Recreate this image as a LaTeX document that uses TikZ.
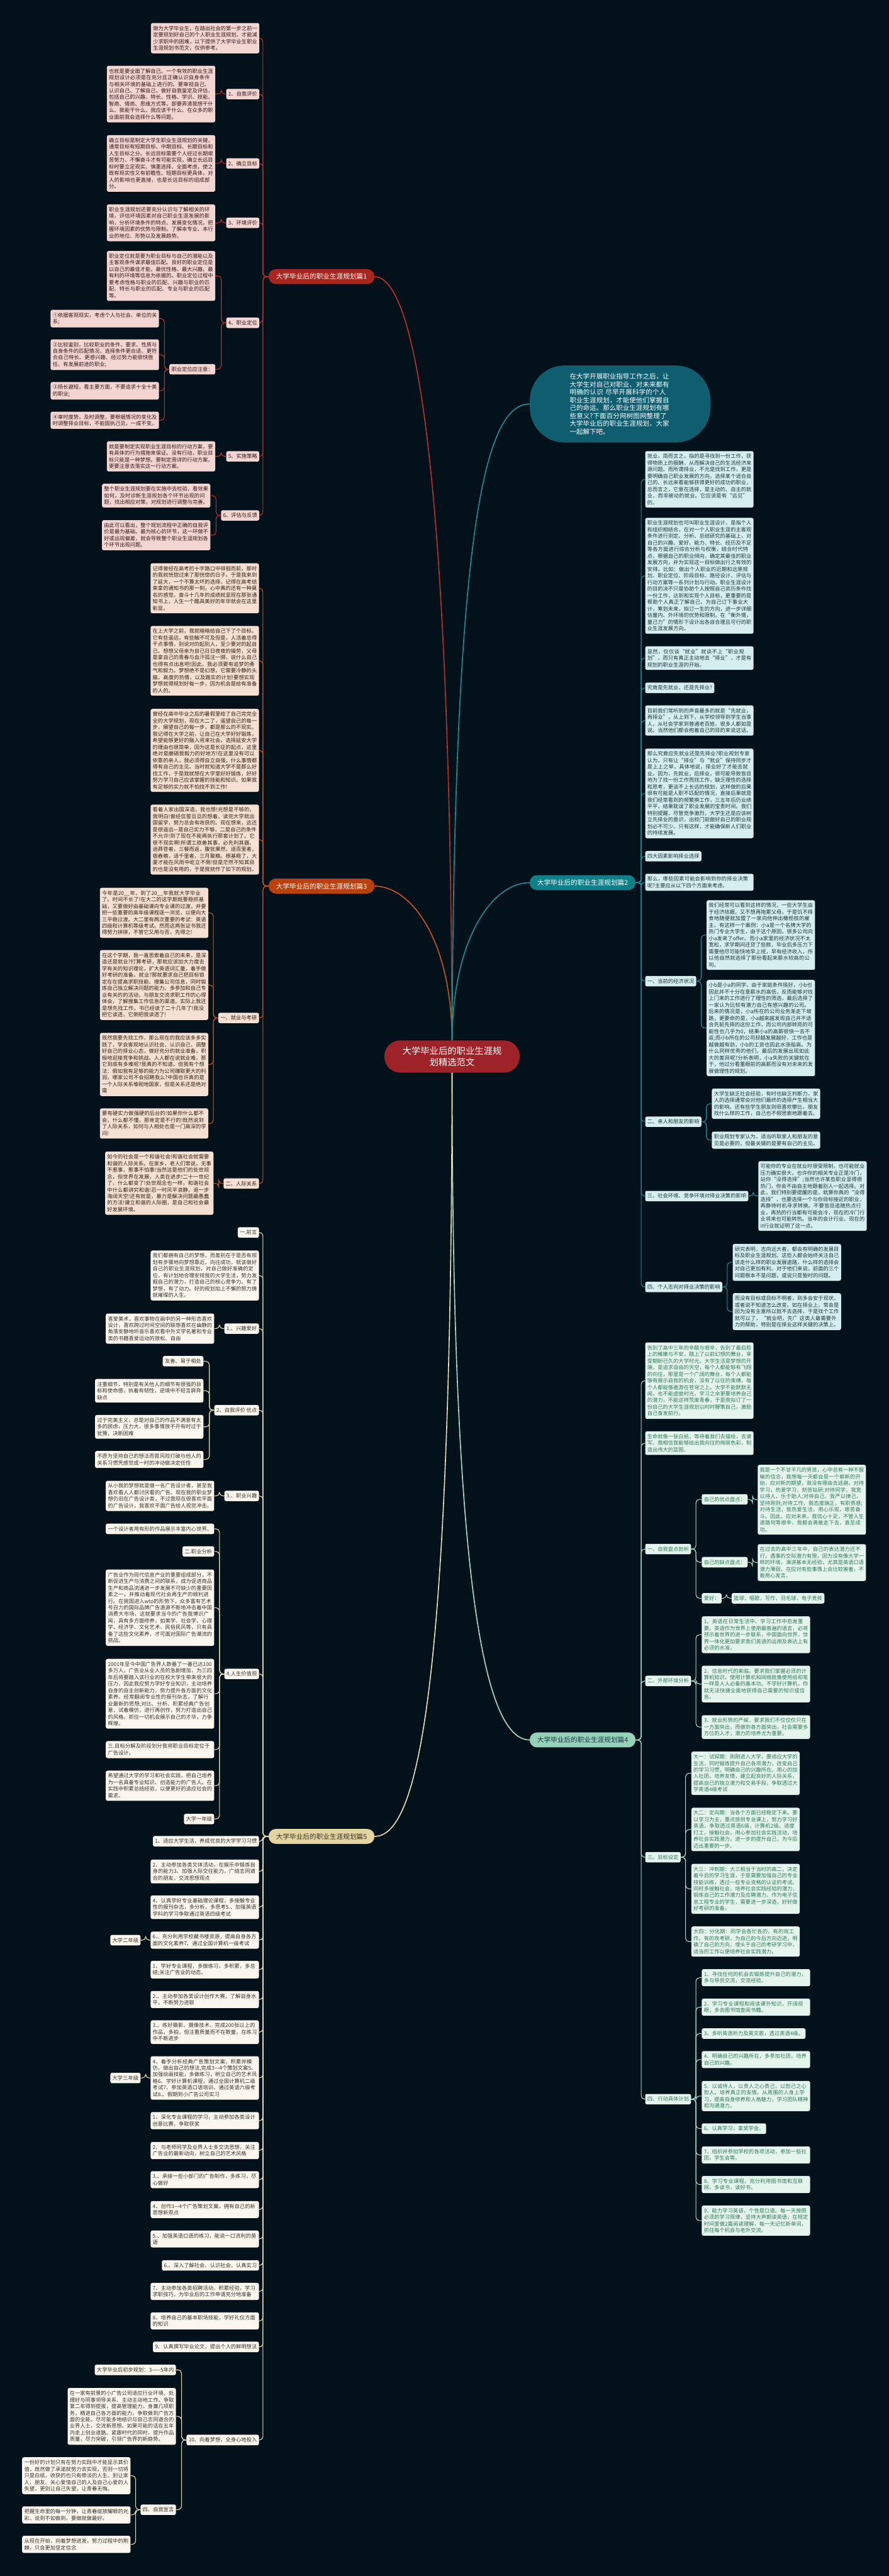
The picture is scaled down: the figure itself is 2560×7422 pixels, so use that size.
\documentclass[tikz,border=0pt]{standalone}
\usepackage{fontspec}
\setmainfont{Noto Sans CJK SC}
\XeTeXlinebreaklocale "zh"
\XeTeXlinebreakskip=0pt plus 1pt

\definecolor{bgcol}{RGB}{3,17,26}
\definecolor{ctrfill}{RGB}{158,35,40}
\definecolor{introfill}{RGB}{14,94,112}
% branch colours
\definecolor{redlab}{RGB}{168,38,30}
\definecolor{redline}{RGB}{184,50,40}
\definecolor{redbox}{RGB}{243,213,210}
\definecolor{redtext}{RGB}{50,25,25}
\definecolor{orglab}{RGB}{184,65,14}
\definecolor{orgline}{RGB}{200,84,30}
\definecolor{orgbox}{RGB}{246,224,211}
\definecolor{orgtext}{RGB}{50,30,20}
\definecolor{beilab}{RGB}{228,212,160}
\definecolor{beiline}{RGB}{231,221,179}
\definecolor{beibox}{RGB}{251,247,238}
\definecolor{beitext}{RGB}{55,50,40}
\definecolor{tealab}{RGB}{15,127,136}
\definecolor{tealine}{RGB}{26,142,151}
\definecolor{teabox}{RGB}{215,238,240}
\definecolor{teatext}{RGB}{25,55,62}
\definecolor{mntlab}{RGB}{150,210,185}
\definecolor{mntline}{RGB}{164,220,196}
\definecolor{mntbox}{RGB}{230,244,238}
\definecolor{mnttext}{RGB}{44,122,90}

\begin{document}
\begin{tikzpicture}[x=1pt, y=-1pt,
  textbox/.style={rounded corners=5pt, inner xsep=6pt, inner ysep=8pt, text width=300pt, align=left, font=\fontsize{15}{19}\selectfont},
  tagbox/.style={rounded corners=5pt, inner xsep=6pt, inner ysep=8pt, font=\fontsize{15}{19}\selectfont},
  pill/.style={rounded corners=21pt, minimum width=305pt, minimum height=43pt, font=\fontsize{19.3}{23}\selectfont},
  c1/.style={fill=redbox, text=redtext}, c3/.style={fill=orgbox, text=orgtext},
  c5/.style={fill=beibox, text=beitext}, c2/.style={fill=teabox, text=teatext},
  c4/.style={fill=mntbox, text=mnttext},
  l1/.style={draw=redline, line width=2pt, rounded corners=10pt},
  l3/.style={draw=orgline, line width=2pt, rounded corners=10pt},
  l5/.style={draw=beiline, line width=2pt, rounded corners=10pt},
  l2/.style={draw=tealine, line width=2pt, rounded corners=10pt},
  l4/.style={draw=mntline, line width=2pt, rounded corners=10pt}]

\fill[bgcol] (0,0) rectangle (2560,7422);
\useasboundingbox (0,0) rectangle (2560,7422);

% Centre and intro
\node[fill=ctrfill, text=white, rounded corners=46pt, minimum width=390pt, minimum height=93pt, align=center, font=\fontsize{26}{33}\selectfont] (ctr) at (1302,3044) {大学毕业后的职业生涯规\\划精选范文};
\node[fill=introfill, text=white, rounded corners=100pt, minimum width=520pt, minimum height=222pt, text width=290pt, align=left, font=\fontsize{19}{22.7}\selectfont] (intro) at (1786,1164) {在大学开展职业指导工作之后，让大学生对自己对职业、对未来都有明确的认识 尽早开展科学的个人职业生涯规划，才能使他们掌握自己的命运。那么职业生涯规划有哪些意义?下面百分网树图网整理了大学毕业后的职业生涯规划，大家一起解下吧。};

% Branch labels
\node[pill, fill=redlab, text=white] (b1) at (926,797) {大学毕业后的职业生涯规划篇1};
\node[pill, fill=orglab, text=white] (b3) at (926,2553) {大学毕业后的职业生涯规划篇3};
\node[pill, fill=beilab, text=beitext] (b5) at (926,5291) {大学毕业后的职业生涯规划篇5};
\node[pill, fill=tealab, text=white] (b2) at (1678,2543) {大学毕业后的职业生涯规划篇2};
\node[pill, fill=mntlab, text=teatext] (b4) at (1678,5013) {大学毕业后的职业生涯规划篇4};

% Branch 1
\node[textbox, c1, anchor=east] (b1intro) at (747,110) {做为大学毕业生，在踏出社会的第一步之前一定要规划好自己的个人职业生涯规划，才能减少求职中的困难，以下提供了大学毕业生职业生涯规划书范文，仅供参考。};
\node[tagbox, c1, anchor=east] (b1s1) at (747,271) {1、自我评价};
\node[textbox, c1, anchor=east] (b1t1) at (620,271) {也就是要全面了解自己。一个有效的职业生涯规划设计必须是在充分且正确认识自身条件与相关环境的基础上进行的。要审视自己、认识自己、了解自己，做好自我鉴定及评估，包括自己的兴趣、特长、性格、学识、技能、智商、情商、思维方式等。即要弄清我想干什么、我能干什么、我应该干什么、在众多的职业面前我会选择什么等问题。};
\node[tagbox, c1, anchor=east] (b1s2) at (747,471) {2、确立目标};
\node[textbox, c1, anchor=east] (b1t2) at (620,471) {确立目标是制定大学生职业生涯规划的关键，通常目标有短期目标、中期目标、长期目标和人生目标之分。长远目标需要个人经过长期艰苦努力、不懈奋斗才有可能实现，确立长远目标时要立足现实、慎重选择、全面考虑，使之既有现实性又有前瞻性。短期目标更具体，对人的影响也更直接，也是长远目标的组成部分。};
\node[tagbox, c1, anchor=east] (b1s3) at (747,642) {3、环境评价};
\node[textbox, c1, anchor=east] (b1t3) at (620,642) {职业生涯规划还要充分认识与了解相关的环境，评估环境因素对自己职业生涯发展的影响，分析环境条件的特点、发展变化情况，把握环境因素的优势与限制。了解本专业、本行业的地位、形势以及发展趋势。};
\node[tagbox, c1, anchor=east] (b1s4) at (747,930) {4、职业定位};
\node[textbox, c1, anchor=east] (b1t4) at (620,795) {职业定位就是要为职业目标与自己的潜能以及主客观条件谋求最佳匹配。良好的职业定位是以自己的最佳才能、最优性格、最大兴趣、最有利的环境等信息为依据的。职业定位过程中要考虑性格与职业的匹配、兴趣与职业的匹配、特长与职业的匹配、专业与职业的匹配等。};
\node[tagbox, c1, anchor=east] (b1n) at (620,1064) {职业定位应注意：};
\node[textbox, c1, anchor=east] (b1n1) at (458,918) {①依据客观现实，考虑个人与社会、单位的关系;};
\node[textbox, c1, anchor=east] (b1n2) at (458,1022) {②比较鉴别，比较职业的条件、要求、性质与自身条件的匹配情况，选择条件更合适、更符合自己特长、更感兴趣、经过努力能很快胜任、有发展前途的职业;};
\node[textbox, c1, anchor=east] (b1n3) at (458,1126) {③扬长避短，看主要方面，不要追求十全十美的职业;};
\node[textbox, c1, anchor=east] (b1n4) at (458,1211) {④审时度势，及时调整，要根据情况的变化及时调整择业目标，不能固执己见，一成不变。};
\node[tagbox, c1, anchor=east] (b1s5) at (747,1315) {5、实施策略};
\node[textbox, c1, anchor=east] (b1t5) at (620,1315) {就是要制定实现职业生涯目标的行动方案，要有具体的行为措施来保证。没有行动，职业目标只能是一种梦想。要制定周详的行动方案，更要注意去落实这一行动方案。};
\node[tagbox, c1, anchor=east] (b1s6) at (747,1485) {6、评估与反馈};
\node[textbox, c1, anchor=east] (b1t6a) at (606,1428) {整个职业生涯规划要在实施中去检验，看效果如何，及时诊断生涯规划各个环节出现的问题，找出相应对策，对规划进行调整与完善。};
\node[textbox, c1, anchor=east] (b1t6b) at (606,1542) {由此可以看出，整个规划流程中正确的自我评价是最为基础、最为核心的环节，这一环做不好或出现偏差，就会导致整个职业生涯规划各个环节出现问题。};

% Branch 3
\node[textbox, c3, anchor=east] (b3t1) at (746,1695) {记得曾经在高考的十字路口中徘徊而前，那时的我就恍惚过来了那恍惚的日子。于是我来到了延大，一个不算太坏的选择，记得在高考结束拿的通知书的那一刻，心中真的还有一种莫名的感觉。奋斗十几年的成绩就显现在那张通知书上，人生一个酷具美好的年华就会在这里彰显。};
\node[textbox, c3, anchor=east] (b3t2) at (746,1904) {在上大学之前，我就暗暗给自己下了个目标。它有些遥远，有些触不可及但是，人活着总得干点事情，别说对的起别人，至少要对的起自己。想想父母亲为自己日日夜夜的操劳，父母是拿自己的青春与血汗孤注一掷，说什么自己也得有点出息吧!因此，我必须要有追梦的勇气和毅力。梦想绝不是幻想，它需要冷静的头脑，高度的热情，以及踏实的计划!要想实现梦想就得规划好每一步，因为机会是给有准备的人的。};
\node[textbox, c3, anchor=east] (b3t3) at (746,2162) {曾经在高中毕业之后的暑假里给了自己完完全全的大学规划，现在大二了，遥望自己的每一步，展望自己的每一步，都是那么的不现实。我记得在大学之前，让自己在大学好好锻炼，希望能够更好的融入将来社会。选择延安大学的理由也很简单，因为这是长征的起点，这里绝对是磨砺我毅力的好地方!在这里没有可以依靠的亲人，我必须得自立自强，什么事情都得有自己的主见。当时就知道大学不是那么好找工作，于是我就想在大学里好好锻炼，好好努力学习自己应该掌握的技能和知识。如果我有足够的实力就不怕找不到工作!};
\node[textbox, c3, anchor=east] (b3t4) at (746,2419) {看着人家出国深造，我也想!光想是不够的，我明白!曾经信誓旦旦的想着，读完大学就出国留学，努力总会有收获的。现在想来，这还是很遥远—是自己实力不够，二是自己的条件不允许!到了现在不能再执行那套计划了。它很不现实啊!所谓工欲善其事，必先利其器、适莽苍者，三餐而返，腹犹果然，适百里者，宿舂粮，适千里者，三月聚粮。根基稳了，大厦才能在风雨中屹立不倒!但是茫然不知其目的也是没有用的，于是我就作了如下的规划。};
\node[tagbox, c3, anchor=east] (b3s1) at (746,2933) {一、就业与考研};
\node[textbox, c3, anchor=east] (b3s1a) at (600,2630) {今年是20\_\_年，到了20\_\_年我就大学毕业了。时间不长了!在大二的这学期既要稳抓基础，又要做好由基础课向专业课的过渡，并要把一些重要的高年级课程逐一浏览，以便向大三平稳过渡。大二里有两次重要的考试：英语四级和计算机等级考试。然而这两张证书我还得努力拼拼，不管它又用与否，先得之!};
\node[textbox, c3, anchor=east] (b3s1b) at (600,2838) {在这个学期，我一直思索着自己的未来，是深造还是就业?打算考研，那就应该加大力度去学有关的知识理论，扩大英语词汇量，着手做好考研的准备。就业?那就要求自己把目标锁定在在提高求职技能、搜集公司信息，同时锻炼自己独立解决问题的能力。多参加和自己专业有关的的活动，与朋友交流求职工作的心得体会，了解搜集工作信息的渠道。实际上我还是想先找工作，书已经读了二十几年了!我没把它读透，它倒把我读透了!};
\node[textbox, c3, anchor=east] (b3s1c) at (600,3067) {既然我要先找工作，那么现在的我应该多多实践了，学会客观地认识社会、认识自己，调整好自己的择业心态，做好充分的就业准备，积极地迎接竞争和挑战。人人都在说就业难，那它到底有多难呢?我真的不知道，但我有个想法：假如我有足够的能力为公司赚取更大的利润，哪家公司不会招聘我么?中国也许真的是一个人际关系堆砌地国家，但是关系还是绝对需};
\node[textbox, c3, anchor=east] (b3s1d) at (600,3237) {要有硬实力做强硬的后台的!如果你什么都不会，什么都不懂，那肯定是不行的!既然说到了人际关系，如何与人相处也是一门高深的学问!};
\node[tagbox, c3, anchor=east] (b3s2) at (746,3410) {二、人际关系};
\node[textbox, c3, anchor=east] (b3s2a) at (615,3409) {如今的社会是一个和谐社会!和谐社会就需要和谐的人际关系。在家乡，老人们常说，无事不惹事，惹事不怕事!当然这是他们的处世观念，但世界在发展，人类在进步!二十一世纪了，什么都变了!处世观念也一样，和谐社会中什么都讲究和谐!忍一时风平浪静，退一步海阔天空!还有就是，暴力是解决问题最愚蠢的方法!建立和谐的人际圈，是自己和社会最好发展环境。};

% Branch 5
\node[tagbox, c5, anchor=east] (b5a) at (746,3551) {一.前言};
\node[textbox, c5, anchor=east] (b5b) at (746,3675) {我们都拥有自己的梦想，而差别在于是否有规划有步骤地向梦想靠近。向往成功，就该做好自己的职业生涯规划，对自己做好准确的定位，有计划地合理安排我的大学生活，努力发掘自己的潜力，打造自己的核心竞争力。有了梦想，有了动力。好的规划加上不懈的努力铸就璀璨的人生。};
\node[tagbox, c5, anchor=east] (b5s1) at (746,3828) {1.、兴趣爱好};
\node[textbox, c5, anchor=east] (b5s1a) at (617,3828) {喜爱美术，喜欢事物在画中的另一种形态喜欢设计，喜欢跨过时间空间的联想喜欢在幽静的角落安静地听音乐喜欢看中外文学名著和专业类的书籍喜爱运动的放松、自由};
\node[tagbox, c5, anchor=east] (b5s2) at (746,4063) {2、自我评价 优点};
\node[tagbox, c5, anchor=east] (b5s2a) at (586,3922) {友善、易于相处};
\node[textbox, c5, anchor=east] (b5s2b) at (586,4007) {注重细节，特别是有关他人的细节有很强的目标和使命感，执着有韧性，逆境中不轻言屏弃缺点};
\node[textbox, c5, anchor=east] (b5s2c) at (586,4111) {过于完美主义，总是对自己的作品不满意有太多的顾虑，压力大，很多事情放不开有时过于犹豫，决断困难};
\node[textbox, c5, anchor=east] (b5s2d) at (586,4205) {不愿为坚持自己的想法而冒风险打破与他人的关系习惯凭感觉或一时的冲动做决定任性};
\node[tagbox, c5, anchor=east] (b5s3) at (746,4310) {3.、职业兴趣};
\node[textbox, c5, anchor=east] (b5s3a) at (617,4310) {从小我的梦想就是做一名广告设计者，甚至我喜欢看人人都讨厌看的广告。现在我的职业梦想仍旧在广告设计类，不过我现在很喜欢平面的广告设计，我喜欢平面广告给人视觉冲击。};
\node[tagbox, c5, anchor=east] (b5s4) at (746,4823) {4.人生价值观};
\node[tagbox, c5, anchor=east] (b5s4a) at (617,4405) {一个设计者用有形的作品展示丰富内心世界。};
\node[tagbox, c5, anchor=east] (b5s4b) at (617,4470) {二.职业分析};
\node[textbox, c5, anchor=east] (b5s4c) at (617,4632) {广告业作为现代信息产业的重要组成部分，不断促进生产与消费之间的联系，成为促进商品生产和商品流通进一步发展不可缺少的重要因素之一，并推动着现代社会再生产的顺利进行。在我国进入wto的形势下，众多富有艺术号召力的国际品牌广告源源不断地冲击着中国消费大市场，这就要求当今的广告我博识广闻，具有多方面修养，如美学、社会学、心理学、经济学、文化艺术、民俗民风等，只有具备了这些文化素养，才可面对国际广告潮流的挑战。};
\node[textbox, c5, anchor=east] (b5s4d) at (617,4880) {2001年至今中国广告界人数番了一番已达100多万人，广告业从业人员的急剧增加，为三四年后将要踏入该行业的在校大学生带来很大的压力，因此我应努力学好专业知识，主动培养自身的自主创新能力，努力提升各方面的文化素养。经常翻阅专业性的报刊杂志，了解行业最新的思想;对比、分析、积累经典广告创意，试着模仿，进行再创作，努力打造出自己的风格。抓住一切机会展示自己的才华，力争辉煌。};
\node[textbox, c5, anchor=east] (b5s4e) at (617,5041) {三.目标分解及阶段划分我将职业目标定位于广告设计。};
\node[textbox, c5, anchor=east] (b5s4f) at (617,5145) {希望通过大学的学习和社会实践，把自己培养为一名具备专业知识、创造能力的广告人。在实践中积累总结经验，以便更好的适应社会的需求。};
\node[tagbox, c5, anchor=east] (b5s4g) at (617,5241) {大学一年级};
\node[tagbox, c5, anchor=east] (b5c) at (746,5305) {1、适应大学生活，养成优良的大学学习习惯};
\node[textbox, c5, anchor=east] (b5d) at (746,5392) {2、主动参加各类文体活动，在娱乐中锻炼自身的能力3、加强人际交往能力，广结志同道合的朋友，交流思想观点};
\node[textbox, c5, anchor=east] (b5e) at (746,5495) {4、认真学好专业基础理论课程，多接触专业性的报刊杂志，多分析，多思考5.、加强英语学科的学习争取通过英语四级考试};
\node[textbox, c5, anchor=east] (b5f) at (746,5590) {6.、充分利用学校藏书楼资源，提高自身各方面的文化素养7、通过全国计算机一级考试};
\node[tagbox, c5, anchor=east] (b5f1) at (405,5590) {大学二年级};
\node[textbox, c5, anchor=east] (b5g) at (746,5675) {1、学好专业课程，多做练习，多积累，多总结;关注广告业的动态。};
\node[textbox, c5, anchor=east] (b5h) at (746,5761) {2.、主动参加各类设计创作大赛，了解自身水平，不断努力进取};
\node[textbox, c5, anchor=east] (b5i) at (746,5855) {3.、练好摄影、摄像技术，完成200张以上的作品，多拍，但注重质量而不在数量，在练习中不断进步};
\node[textbox, c5, anchor=east] (b5j) at (746,5987) {4、着手分析经典广告策划文案，积累并模仿，做出自己的想法,完成3—4个策划文案5、加强绘画技能，多做练习，树立自己的艺术风格6、学好计算机课程，通过全国计算机二级考试7、参加英语口语培训，通过英语六级考试8.、假期到小广告公司实习};
\node[tagbox, c5, anchor=east] (b5j1) at (405,5987) {大学三年级};
\node[textbox, c5, anchor=east] (b5k) at (746,6110) {1、深化专业课程的学习，主动参加各类设计创意比赛，争取获奖};
\node[textbox, c5, anchor=east] (b5l) at (746,6196) {2、与老师同学及业界人士多交流思想，关注广告业的最新动向，树立自己的艺术风格};
\node[textbox, c5, anchor=east] (b5m) at (746,6280) {3.、承接一些小部门的广告制作，多练习，尽心做好};
\node[textbox, c5, anchor=east] (b5n) at (746,6366) {4、创作3—4个广告策划文案，拥有自己的新思想新观点};
\node[textbox, c5, anchor=east] (b5o) at (746,6451) {5.、加强英语口语的练习，能说一口流利的英语};
\node[tagbox, c5, anchor=east] (b5p) at (746,6527) {6.、深入了解社会、认识社会，认真实习};
\node[textbox, c5, anchor=east] (b5q) at (746,6602) {7、主动参加各类招聘活动，积累经验，学习求职技巧，为毕业后的工作申请充分地准备};
\node[textbox, c5, anchor=east] (b5r) at (746,6687) {8、培养自己的基本职场技能，学好礼仪方面的知识};
\node[tagbox, c5, anchor=east] (b5s) at (746,6762) {9、认真撰写毕业论文，提出个人的鲜明想法};
\node[tagbox, c5, anchor=east] (b5t) at (746,7030) {10、向着梦想，全身心地投入};
\node[tagbox, c5, anchor=east] (b5t1) at (507,6828) {大学毕业后初步规划：3——5年内};
\node[textbox, c5, anchor=east] (b5t2) at (507,6962) {在一家有前景的小广告公司适应行业环境、处理好与同事领导关系、主动主动地工作。争取第二年得到提拔，提高管理能力，身兼几项职务，精进自己各方面的能力，争取做到广告方面的全能。尽可能多地结识与自己志同道合的业界人士，交流新思想。如果可能的话在五年内走上创业道路。紧跟时代的同时，提升作品质量，尽力突破，引领广告界的新趋势。};
\node[tagbox, c5, anchor=east] (b5t3) at (507,7231) {四、自我宣言};
\node[textbox, c5, anchor=east] (b5t3a) at (376,7133) {一份好的计划只有在努力实践中才能显示其价值，既然做了承诺就努力去实现，否则一切将只是白纸，收获的也只有惨淡的人生。别让家人、朋友、关心爱惜自己的人及自己心爱的人失望，更别让自己失望，让青春无悔。};
\node[textbox, c5, anchor=east] (b5t3b) at (376,7246) {把握生命里的每一分钟，让青春绽放耀眼的光彩。说到不如做到，要做就做最好。};
\node[textbox, c5, anchor=east] (b5t3c) at (376,7331) {从现在开始，向着梦想进发，努力过程中的荆棘，只会更加坚定信念};

% Branch 2
\node[textbox, c2, anchor=west] (b2a) at (1858,1381) {就业，简而言之，指的是寻找到一份工作，获得物质上的报酬，从而解决自己的生活经济来源问题。而所谓择业，不光是找到工作，更是要明确自己职业发展的方向，选择某个适合自己的、长远来看能够获得更好的成功的职业，总而言之，它意在选择，是主动的、自主的就业，而非被动的就业。它应该是有“远见”的。};
\node[textbox, c2, anchor=west] (b2b) at (1858,1659) {职业生涯规划也可叫职业生涯设计，是指个人和组织相结合，在对一个人职业生涯的主客观条件进行测定、分析、总结研究的基础上，对自己的兴趣、爱好、能力、特长、经历及不足等各方面进行综合分析与权衡，结合时代特点，根据自己的职业倾向，确定其最佳的职业发展方向，并为实现这一目标做出行之有效的安排。比如：做出个人职业的近期和远景规划、职业定位、阶段目标、路径设计、评估与行动方案等一系列计划与行动。职业生涯设计的目的决不只是协助个人按照自己资历条件找一份工作，达到和实现个人目标，更重要的是帮助个人真正了解自己，为自己订下事业大计，筹划未来，拟订一生的方向，进一步详细估量内、外环境的优势和限制，在“衡外情，量己力”的情形下设计出各自合理且可行的职业生涯发展方向。};
\node[textbox, c2, anchor=west] (b2c) at (1858,1896) {显然，仅仅谈“就业”就谈不上“职业规划”，而只有真正主动地去“择业”，才是有规划的职业生涯的开始。};
\node[tagbox, c2, anchor=west] (b2d) at (1858,1982) {究竟是先就业，还是先择业?};
\node[textbox, c2, anchor=west] (b2e) at (1858,2076) {目前我们常听到的声音最多的就是“先就业，再择业”，从上到下，从学校领导到学生当事人，从社会学家到普通老百姓，很多人都如是说。当然他们都会抱着自己的目的来说这话。};
\node[textbox, c2, anchor=west] (b2f) at (1858,2286) {那么究竟应先就业还是先择业?职业规划专家认为，只有让“择业”与“就业”保持同步才是上上之举，具体地说，择业好了才能去就业。因为，先就业，后择业，很可能导致盲目地为了找一份工作而找工作，缺乏理性的选择和思考，更谈不上长远的规划，这样做的后果很有可能是人职不匹配的情况，直接后果就是我们经常看到的频繁换工作，三五年后仍业绩平平，结果耽误了职业发展的宝贵时间。我们特别提醒，尽管竞争激烈，大学生还是应该树立先择业的意识，出校门前做好自己的职业规划必不可少。只有这样，才能确保新人们职业的持续发展。};
\node[tagbox, c2, anchor=west] (b2g) at (1858,2467) {四大因素影响择业选择};
\node[textbox, c2, anchor=west] (b2h) at (1858,2542) {那么，哪些因素可能会影响到你的择业决策呢?主要应从以下四个方面来考虑。};
\node[tagbox, c2, anchor=west] (b2s1) at (1858,2827) {一、当前的经济状况};
\node[textbox, c2, anchor=west] (b2s1a) at (2035,2694) {我们经常可以看到这样的情况，一些大学生由于经济拮据，又不想再拖累父母，于是饥不择食地随便就加盟了一家向他伸出橄榄枝的雇主。有这样一个案例：小a是一个名牌大学的热门专业大学生，由于这个原因，很多公司向小a发来了offer。而小a家里的经济状况不太宽松，求学期间还贷了些款，毕业后多压力下需要他尽可能快地早上班，早有经济收入，所以他自然就选择了那份看起来薪水较高的公司。};
\node[textbox, c2, anchor=west] (b2s1b) at (2035,2962) {小b是小a的同学，由于家庭条件挺好，小b也因此并不十分在意薪水的高低，反而能够对找上门来的工作进行了理性的筛选，最后选择了一家认为比较有潜力自己有感兴趣的公司。后来的情况是，小a所在的公司业务渐走下坡路，更要命的是，小a越来越发现自己并不适合先前先择的这份工作，而公司内部转岗的可能性也几乎为0，结果小a的高薪很快一去不返;而小b所在的公司却越发展越好，工作也是越做越有劲，小b的工资也因此水涨船高。为什么同样优秀的他们，最后的发展出现如此大的差异呢?分析表明，小a失败的关键就在于，他过分看重眼前的高薪而没有对未来的发展做理性的规划。};
\node[tagbox, c2, anchor=west] (b2s2) at (1858,3232) {二、亲人和朋友的影响};
\node[textbox, c2, anchor=west] (b2s2a) at (2050,3180) {大学生缺乏社会经验，有时也缺乏判断力，家人的选择通常会对他们最终的选择产生相当大的影响。还有些学生朋友则很喜欢攀比，朋友找什么样的工作，自己也不假思索地跟着去。};
\node[textbox, c2, anchor=west] (b2s2b) at (2050,3285) {职业规划专家认为，适当听取家人和朋友的意见是必要的，但最关键的是要有自己的主见。};
\node[tagbox, c2, anchor=west] (b2s3) at (1858,3446) {三、社会环境、竞争环境对择业决策的影响};
\node[textbox, c2, anchor=west] (b2s3a) at (2184,3446) {可能你的专业在就业时很受限制，也可能就业压力确实很大，也许你的相关专业正是冷门，站你“没得选择”;当然也许某些职业显得很热门，你会不由自主地跟着别人一起选择。对此，我们特别要提醒的是，就算你真的“没得选择”，也要选择一个与你目标接近的职业，再静待时机寻求转换。不要盲目追随热点行业，再热的行当都有可能会冷，现在的冷门行业将来也可能转热。当年的会计行业、现在的it行业就证明了这一点。};
\node[tagbox, c2, anchor=west] (b2s4) at (1858,3708) {四、个人志向对择业决策的影响};
\node[textbox, c2, anchor=west] (b2s4a) at (2110,3637) {研究表明，志向远大者，都会有明确的发展目标及职业生涯规划。这些人都会始终关注自己该走什么样的职业发展道路，什么样的选择会对自己更加有利。对于他们来说，前面的三个问题根本不是问题，或说只是暂时的问题。};
\node[textbox, c2, anchor=west] (b2s4b) at (2110,3779) {而没有目标或目标不明者，则多会安于现状，或者说不知道怎么改变。如在择业上，常会是因为没有主意所以就不去选择，于是找个工作就可以了，“就业吧，先!”这类人最需要外力的帮助，特别是在择业这样关键的决策上。};

% Branch 4
\node[textbox, c4, anchor=west] (b4a) at (1858,3978) {告别了高中三年的辛酸与艰辛，告别了最后脸上的稚嫩与不安，踏上了以前幻想的舞台，享受期盼已久的大学时光。大学生活是梦想的开端，是追求自由的天空，每个人都能够有飞翔的向往，那里是一个广阔的舞台，每个人都能够有展示自我的机会，没有了以往的束缚，每个人都能够遨游在苍穹之上。大学不能默默无闻，也不能虚度时光，学习之余更要培养自己的潜力，不能这样荒废青春，于是我拟订了一份自己的大学生涯规划以时时鞭策自己，激励自己奋发前行。};
\node[textbox, c4, anchor=west] (b4b) at (1858,4158) {生命就像一张白纸，等待着我们去描绘，去谱写。我相信我能够绘出我向往的绚丽色彩，制造出伟大的蓝图。};
\node[tagbox, c4, anchor=west] (b4s1) at (1858,4463) {一、自我盘点剖析};
\node[tagbox, c4, anchor=west] (b4s1a) at (2021,4320) {自己的优点盘点：};
\node[textbox, c4, anchor=west] (b4s1a1) at (2182,4321) {我是一个不甘平凡的男孩，心中总有一种不服输的信念，我想每一天都会是一个崭新的开始，应对新的期望，我没有理由去逃避。对待学习，热爱学习，刻苦钻研;对待同学，我宽以待人，乐于助人;对待自己，我严以律己，坚持原则;对待工作，我态度端正，有职责感;对待生活，我热爱生活，用心乐观，艰苦奋斗。因此，应对未来，我信心十足，不管人生道路何等艰辛，我都会勇敢走下去，直至成功。};
\node[tagbox, c4, anchor=west] (b4s1b) at (2021,4501) {自己的缺点盘点：};
\node[textbox, c4, anchor=west] (b4s1b1) at (2182,4502) {在过去的高中三年中，自己的表达潜力还不行，遇事的交际潜力有限，因为没有像大学一样的环境，演讲基本无经验，尤其是英语口语潜力薄弱，在应对有些事情上会比较害羞，不敢用心发言。};
\node[tagbox, c4, anchor=west] (b4s1c) at (2021,4605) {爱好：};
\node[tagbox, c4, anchor=west] (b4s1c1) at (2107,4605) {篮球，唱歌，写作，羽毛球，电子竞技};
\node[tagbox, c4, anchor=west] (b4s2) at (1858,4843) {二、外部环境分析};
\node[textbox, c4, anchor=west] (b4s2a) at (2021,4710) {1、英语在日常生活中、学习工作中愈发重要。英语作为世界上使用最普遍的语言，必将预示着世界的进一步联系，中国面向世界，世界一体化更加要求我们英语的运用及表达上有必须的水准。};
\node[textbox, c4, anchor=west] (b4s2b) at (2021,4852) {2、信息时代的来临，要求我们掌握必须的计算机知识，使用计算机和网络就像使用纸和笔一样是人人必备的基本功。不学好计算机，你就无法快捷全面地获得自己需要的知识或信息。};
\node[textbox, c4, anchor=west] (b4s2c) at (2021,4976) {3、就业形势的严峻，要求我们不仅仅仅只在一方面突出，而做到各方面突出，社会需要多方位的人才，潜力的培养尤为重要。};
\node[tagbox, c4, anchor=west] (b4s3) at (1858,5351) {三、目标设定};
\node[textbox, c4, anchor=west] (b4s3a) at (1991,5109) {大一：试探期：刚刚进入大学，要适应大学的生活，同时锻炼提升自己各项潜力，改变自己的学习习惯，明确自己的兴趣所在，用心的加入社团，培养友情，建立起良好的人际关系，提高自己的独立潜力和交易手段，争取透过大学英语4级考试};
\node[textbox, c4, anchor=west] (b4s3b) at (1991,5271) {大二：定向期：当各个方面已经稳定下来。要以学习为主，重点放到专业课上，努力学习好英语，争取透过英语6级，计算机2级。适度打工，接触社会，用心参加社会实践活动，培养社会实践潜力，进一步的提升自己，为今后迈出重要的一步。};
\node[textbox, c4, anchor=west] (b4s3c) at (1991,5442) {大三：冲刺期：大三相当于当时的高二，决定着今后的学习生涯，于是需要加强自己的专业技能训练，透过一些专业资格的认证的考试。同时多接触社会，培养社会实践经验的潜力，锻炼自己的工作潜力及应聘潜力。作为电子信息工程专业的学生，需要进一步深造，好好做好考研的准备。};
\node[textbox, c4, anchor=west] (b4s3d) at (1991,5594) {大四：分化期：同学会各忙各的，有的攻工作，有的攻考研，为自己的今后方向迈进，明确了自己的方向，埋头于自己的考研学习中，适当的工作以便培养社会实践潜力。};
\node[tagbox, c4, anchor=west] (b4s4) at (1858,6048) {四、行动具体计划};
\node[textbox, c4, anchor=west] (b4s4a) at (2021,5698) {1、寻找任何的机会去锻炼提升自己的潜力，多与导员交流，交流经验。};
\node[textbox, c4, anchor=west] (b4s4b) at (2021,5783) {2、学习专业课程和阅读课外知识，开阔视眼，多去图书馆查阅书籍。};
\node[tagbox, c4, anchor=west] (b4s4c) at (2021,5859) {3、多听英语听力及英文歌，透过英语4级。};
\node[textbox, c4, anchor=west] (b4s4d) at (2021,5934) {4、明确自己的兴趣所在，多参加社团，培养自己的兴趣。};
\node[textbox, c4, anchor=west] (b4s4e) at (2021,6039) {5、以诚待人，以责人之心责己，以恕己之心恕人。培养真正的友情。从周围的人身上学习，提高自身修养和人格魅力，学习团队精神和沟通潜力。};
\node[tagbox, c4, anchor=west] (b4s4f) at (2021,6133) {6、认真学习，拿奖学金。};
\node[textbox, c4, anchor=west] (b4s4g) at (2021,6209) {7、组织并参加学校的各项活动，参加一些社团，学生会等。};
\node[textbox, c4, anchor=west] (b4s4h) at (2021,6294) {8、学习专业课程，充分利用图书馆和互联网，多读书，读好书。};
\node[textbox, c4, anchor=west] (b4s4i) at (2021,6398) {9、能力学习英语，个性是口语。每一天按照必须的学习规律，坚持大声朗读英语，在规定时间里做2篇阅读理解，每一天记忆新单词，抓住每个机会与老外交流。};

% Trunk lines from the centre
\draw[redline, line width=3pt] (ctr.north) .. controls (1296,1300) and (1190,797) .. (b1.east);
\draw[orgline, line width=3pt] (ctr.north) .. controls (1300,2700) and (1180,2553) .. (b3.east);
\draw[tealine, line width=3pt] (ctr.north) .. controls (1304,2700) and (1420,2543) .. (b2.west);
\draw[tealine, line width=3pt] (ctr.north) .. controls (1308,1500) and (1400,1163) .. (intro.west);
\draw[mntline, line width=3pt] (ctr.south) .. controls (1302,4600) and (1400,5013) .. (b4.west);
\draw[beiline, line width=3pt] (ctr.south) .. controls (1300,4900) and (1200,5291) .. (b5.east);

% Branch 1 connectors
\foreach \c in {b1intro,b1s1,b1s2,b1s3,b1s4,b1s5,b1s6}
  \draw[l1] (b1.west) -- ++(-16,0) |- (\c.east);
\foreach \p/\c in {b1s1/b1t1,b1s2/b1t2,b1s3/b1t3,b1s4/b1t4,b1s4/b1n,b1n/b1n1,b1n/b1n2,b1n/b1n3,b1n/b1n4,b1s5/b1t5,b1s6/b1t6a,b1s6/b1t6b}
  \draw[l1] (\p.west) -- ++(-14,0) |- (\c.east);

% Branch 3 connectors
\foreach \c in {b3t1,b3t2,b3t3,b3t4,b3s1,b3s2}
  \draw[l3] (b3.west) -- ++(-16,0) |- (\c.east);
\foreach \p/\c in {b3s1/b3s1a,b3s1/b3s1b,b3s1/b3s1c,b3s1/b3s1d,b3s2/b3s2a}
  \draw[l3] (\p.west) -- ++(-14,0) |- (\c.east);

% Branch 5 connectors
\foreach \c in {b5a,b5b,b5s1,b5s2,b5s3,b5s4,b5c,b5d,b5e,b5f,b5g,b5h,b5i,b5j,b5k,b5l,b5m,b5n,b5o,b5p,b5q,b5r,b5s,b5t}
  \draw[l5] (b5.west) -- ++(-16,0) |- (\c.east);
\foreach \p/\c in {b5s1/b5s1a,b5s2/b5s2a,b5s2/b5s2b,b5s2/b5s2c,b5s2/b5s2d,b5s3/b5s3a,b5s4/b5s4a,b5s4/b5s4b,b5s4/b5s4c,b5s4/b5s4d,b5s4/b5s4e,b5s4/b5s4f,b5s4/b5s4g,b5f/b5f1,b5j/b5j1,b5t/b5t1,b5t/b5t2,b5t/b5t3,b5t3/b5t3a,b5t3/b5t3b,b5t3/b5t3c}
  \draw[l5] (\p.west) -- ++(-14,0) |- (\c.east);

% Branch 2 connectors
\foreach \c in {b2a,b2b,b2c,b2d,b2e,b2f,b2g,b2h,b2s1,b2s2,b2s3,b2s4}
  \draw[l2] (b2.east) -- ++(16,0) |- (\c.west);
\foreach \p/\c in {b2s1/b2s1a,b2s1/b2s1b,b2s2/b2s2a,b2s2/b2s2b,b2s3/b2s3a,b2s4/b2s4a,b2s4/b2s4b}
  \draw[l2] (\p.east) -- ++(14,0) |- (\c.west);

% Branch 4 connectors
\foreach \c in {b4a,b4b,b4s1,b4s2,b4s3,b4s4}
  \draw[l4] (b4.east) -- ++(16,0) |- (\c.west);
\foreach \p/\c in {b4s1/b4s1a,b4s1/b4s1b,b4s1/b4s1c,b4s1a/b4s1a1,b4s1b/b4s1b1,b4s1c/b4s1c1,b4s2/b4s2a,b4s2/b4s2b,b4s2/b4s2c,b4s3/b4s3a,b4s3/b4s3b,b4s3/b4s3c,b4s3/b4s3d,b4s4/b4s4a,b4s4/b4s4b,b4s4/b4s4c,b4s4/b4s4d,b4s4/b4s4e,b4s4/b4s4f,b4s4/b4s4g,b4s4/b4s4h,b4s4/b4s4i}
  \draw[l4] (\p.east) -- ++(14,0) |- (\c.west);
\end{tikzpicture}
\end{document}
